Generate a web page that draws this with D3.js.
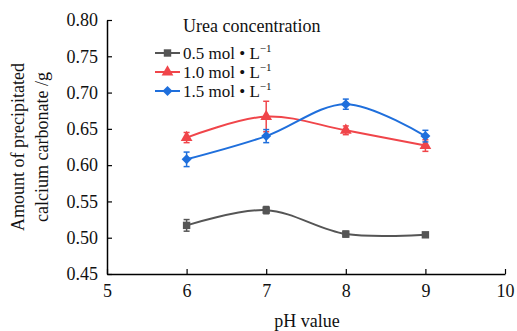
<!DOCTYPE html>
<html lang="en">
<head>
<meta charset="UTF-8">
<title>Precipitated calcium carbonate vs pH</title>
<script src="https://d3js.org/d3.v7.min.js"></script>
<style>
  body { margin: 0; background: #fff; }
  svg text { fill: #111; }
</style>
</head>
<body>
<svg width="517" height="331"></svg>
<script>
// data
const phValues = [6, 7, 8, 9];
const seriesNames = ["0.5", "1.0", "1.5"];
const low = [0.517, 0.538, 0.505, 0.504];
const lowErr = [0.008, 0.005, 0.004, 0.002];
const mid = [0.638, 0.667, 0.648, 0.627];
const midErr = [0.007, 0.021, 0.006, 0.008];
const high = [0.608, 0.640, 0.684, 0.640];
const highErr = [0.010, 0.009, 0.007, 0.008];
const xTicks = [5, 6, 7, 8, 9, 10];
const yTicks = [0.45, 0.50, 0.55, 0.60, 0.65, 0.70, 0.75, 0.80];

const FONT = "'Liberation Serif', 'DejaVu Serif', 'Liberation Sans', serif";

// rot: extra rotation of the marker (square turned 45deg gives the diamond)
const series = [
  { name: seriesNames[0], values: low, errs: lowErr, color: "#555555", shape: d3.symbolSquare, size: 55, rot: 0 },
  { name: seriesNames[1], values: mid, errs: midErr, color: "#f0454a", shape: d3.symbolTriangle, size: 60, rot: 0 },
  { name: seriesNames[2], values: high, errs: highErr, color: "#1f6fdc", shape: d3.symbolSquare, size: 50, rot: 45 }
];

const svg = d3.select("svg").style("font-family", FONT);
const x = d3.scaleLinear().domain([5, 10]).range([107, 505]);
const y = d3.scaleLinear().domain([0.45, 0.80]).range([274, 20]);

// axes, ticks pointing inward
svg.append("g")
  .attr("transform", "translate(0,274)")
  .call(d3.axisBottom(x).tickValues(xTicks).tickFormat(d3.format("d")).tickSizeInner(-5).tickSizeOuter(0).tickPadding(10))
  .call(g => g.select(".domain").attr("stroke", "#000").attr("stroke-width", 1.5))
  .call(g => g.selectAll(".tick line").attr("stroke", "#000").attr("stroke-width", 1.2))
  .call(g => g.selectAll(".tick text").style("font-family", FONT).style("font-size", "18px"));

svg.append("g")
  .attr("transform", "translate(107,0)")
  .call(d3.axisLeft(y).tickValues(yTicks).tickFormat(d3.format(".2f")).tickSizeInner(-5).tickSizeOuter(0).tickPadding(9))
  .call(g => g.select(".domain").attr("stroke", "#000").attr("stroke-width", 1.5))
  .call(g => g.selectAll(".tick line").attr("stroke", "#000").attr("stroke-width", 1.2))
  .call(g => g.selectAll(".tick text").style("font-family", FONT).style("font-size", "18px"));

// axis titles
svg.append("text")
  .attr("x", 307).attr("y", 327)
  .attr("text-anchor", "middle")
  .style("font-family", FONT).style("font-size", "18px")
  .text("pH value");

const yTitle = svg.append("text")
  .attr("transform", "translate(24,147) rotate(-90)")
  .attr("text-anchor", "middle")
  .style("font-family", FONT).style("font-size", "18px");
yTitle.append("tspan").attr("x", 0).attr("dy", 0).text("Amount of  precipitated");
yTitle.append("tspan").attr("x", 0).attr("dy", 24).text("calcium carbonate /g");

const line = d3.line()
  .x((d, i) => x(phValues[i]))
  .y(d => y(d))
  .curve(d3.curveCatmullRom.alpha(0.5));

series.forEach(s => {
  const g = svg.append("g");
  g.append("path")
    .attr("d", line(s.values))
    .attr("fill", "none")
    .attr("stroke", s.color)
    .attr("stroke-width", 2);

  // error bars
  s.values.forEach((v, i) => {
    const cx = x(phValues[i]);
    const e = s.errs[i];
    g.append("line")
      .attr("x1", cx).attr("x2", cx)
      .attr("y1", y(v - e)).attr("y2", y(v + e))
      .attr("stroke", s.color).attr("stroke-width", 1.5);
    [v - e, v + e].forEach(b => {
      g.append("line")
        .attr("x1", cx - 3).attr("x2", cx + 3)
        .attr("y1", y(b)).attr("y2", y(b))
        .attr("stroke", s.color).attr("stroke-width", 1.5);
    });
  });

  g.selectAll("path.mark")
    .data(s.values)
    .join("path")
    .attr("class", "mark")
    .attr("transform", (d, i) => `translate(${x(phValues[i])},${y(d)}) rotate(${s.rot})`)
    .attr("d", d3.symbol().type(s.shape).size(s.size))
    .attr("fill", s.color);
});

// legend
const legend = svg.append("g");
legend.append("text")
  .attr("x", 183).attr("y", 32)
  .style("font-family", FONT).style("font-size", "18px")
  .text("Urea concentration");

series.forEach((s, i) => {
  const ly = 53 + i * 19;
  legend.append("line")
    .attr("x1", 155).attr("x2", 180)
    .attr("y1", ly).attr("y2", ly)
    .attr("stroke", s.color).attr("stroke-width", 2);
  legend.append("path")
    .attr("transform", `translate(167.5,${ly}) rotate(${s.rot})`)
    .attr("d", d3.symbol().type(s.shape).size(s.size))
    .attr("fill", s.color);
  const t = legend.append("text")
    .attr("x", 183).attr("y", ly + 6)
    .style("font-family", FONT).style("font-size", "17px");
  t.append("tspan").text(`${s.name} mol • L`);
  t.append("tspan").attr("dy", -7).style("font-size", "11px").text("−1");
});
</script>
</body>
</html>
